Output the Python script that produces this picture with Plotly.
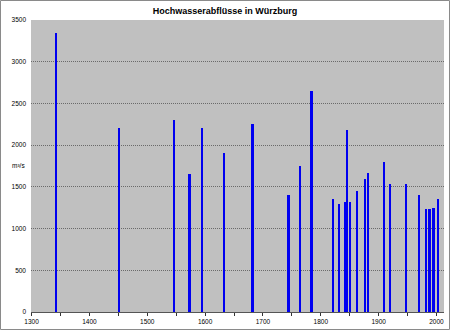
import plotly.graph_objects as go

years = [1342, 1451, 1546, 1573, 1595, 1633, 1682, 1744, 1764, 1784,
         1821, 1832, 1842, 1845, 1850, 1862, 1876, 1882, 1909, 1920,
         1947, 1970, 1982, 1988, 1995, 2003]
discharge = [3350, 2200, 2300, 1650, 2200, 1900, 2250, 1400, 1750, 2650,
             1360, 1300, 1320, 2180, 1320, 1450, 1590, 1670, 1800, 1540,
             1540, 1400, 1230, 1240, 1250, 1360]
title_text = "Hochwasserabflüsse in Würzburg"
unit_text = "m³/s"

W, H = 450, 330
ml, mr, mt, mb = 31, 6, 20, 18
pw, ph = W - ml - mr, H - mt - mb

fig = go.Figure(go.Bar(
    x=years, y=discharge, width=4.0,
    marker=dict(color="#0000f0", line=dict(width=0)),
))

fig.update_layout(
    width=W, height=H,
    margin=dict(l=ml, r=mr, t=mt, b=mb),
    paper_bgcolor="white", plot_bgcolor="#c0c0c0",
    font=dict(family="Arial, Liberation Sans, sans-serif", size=6.5, color="black"),
    showlegend=False,
    title=dict(text="<b>" + title_text + "</b>", x=0.5, xanchor="center",
               y=1 - 11 / H, yanchor="middle", font=dict(size=9)),
    bargap=0,
)
fig.update_xaxes(range=[1299, 2013], tickmode="linear", tick0=1300, dtick=100,
                 ticks="outside", ticklen=3, tickcolor="#333", showgrid=False,
                 showline=True, linecolor="#555", linewidth=1, zeroline=False,
                 tickfont=dict(color="black"),
                 minor=dict(dtick=50, ticks="outside", ticklen=3, tickcolor="#333"))
fig.update_yaxes(range=[0, 3500], tickmode="linear", tick0=0, dtick=500,
                 showgrid=True, gridcolor="#6a6a6a", griddash="1px,1px", gridwidth=1,
                 tickfont=dict(color="black"),
                 zeroline=False, showline=False, ticks="", ticklabelstandoff=4)

fig.add_annotation(text=unit_text, x=(18 - ml) / pw, y=(H - mb - 165) / ph,
                   xref="paper", yref="paper", showarrow=False,
                   font=dict(size=6.5), xanchor="center", yanchor="middle")
fig.add_shape(type="rect", xref="paper", yref="paper",
              x0=(-ml + 0.5) / pw, x1=1 + (mr - 0.5) / pw,
              y0=(-mb + 0.5) / ph, y1=1 + (mt - 0.5) / ph,
              line=dict(color="#8a8a8a", width=1), layer="below")

fig.write_html("out.html")
